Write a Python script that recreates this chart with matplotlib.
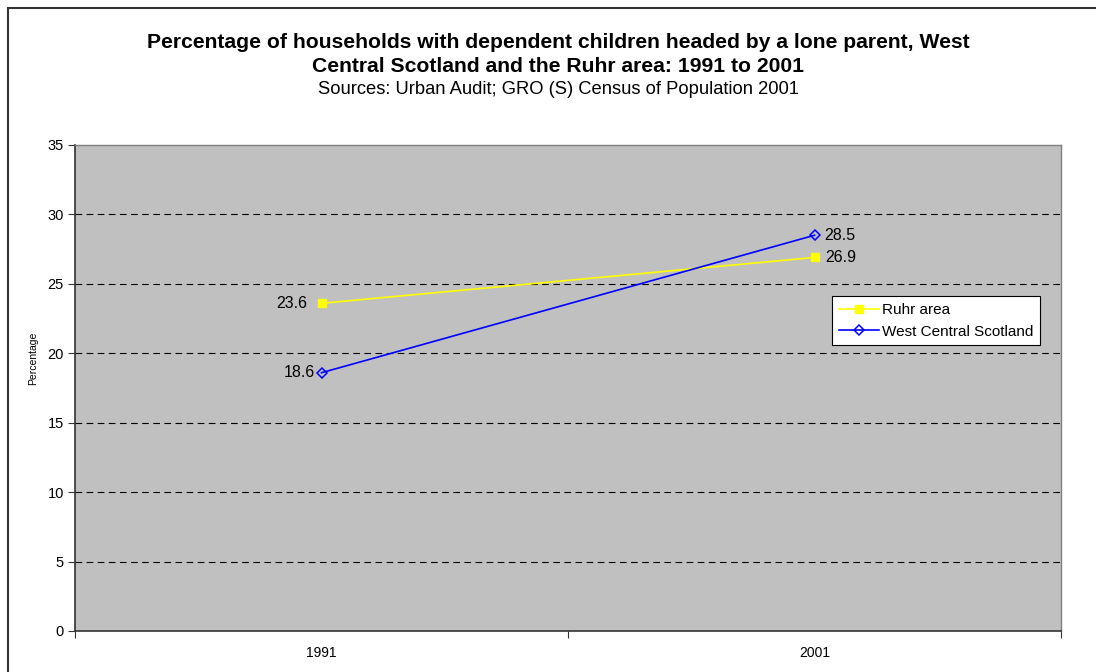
import matplotlib.pyplot as plt
from matplotlib.patches import Rectangle

plt.rcParams['font.family'] = ['Liberation Sans', 'DejaVu Sans']

# Data
years = ['1991', '2001']
ruhr = [23.6, 26.9]
west_central = [18.6, 28.5]
y_ticks = [0, 5, 10, 15, 20, 25, 30, 35]

fig = plt.figure(figsize=(10.96, 6.72), dpi=100)
fig.patch.set_facecolor('white')

# Outer chart frame (right/bottom edges run off the picture)
fig.add_artist(Rectangle((8 / 1096, -0.05), 1.2, 1 - 8 / 672 + 0.05,
                         transform=fig.transFigure, fill=False,
                         edgecolor='#333333', linewidth=1.5))

ax = fig.add_axes([75 / 1096, 1 - 631 / 672, (1061 - 75) / 1096, (631 - 145) / 672])
ax.set_facecolor('#c0c0c0')

x = [0.5, 1.5]
ax.plot(x, ruhr, color='#ffff00', lw=1.2, marker='s', markersize=6,
        markerfacecolor='#ffff00', markeredgecolor='#ffff00', label='Ruhr area', zorder=3)
ax.plot(x, west_central, color='#0000ff', lw=1.2, marker='D', markersize=5,
        markerfacecolor='none', markeredgecolor='#0000ff', markeredgewidth=1.1,
        label='West Central Scotland', zorder=4)

# Data labels
ax.annotate(f'{ruhr[0]}', (x[0], ruhr[0]), xytext=(-10.5, 0), textcoords='offset points',
            ha='right', va='center', fontsize=11.5)
ax.annotate(f'{west_central[0]}', (x[0], west_central[0]), xytext=(-4.5, 0), textcoords='offset points',
            ha='right', va='center', fontsize=11.5)
ax.annotate(f'{west_central[1]}', (x[1], west_central[1]), xytext=(7, 0), textcoords='offset points',
            ha='left', va='center', fontsize=11.5)
ax.annotate(f'{ruhr[1]}', (x[1], ruhr[1]), xytext=(7.5, 0), textcoords='offset points',
            ha='left', va='center', fontsize=11.5)

ax.set_xlim(0, 2)
ax.set_ylim(0, 35)
ax.set_yticks(y_ticks)
ax.set_yticklabels([str(v) for v in y_ticks], fontsize=10.5)
ax.set_xticks([0, 1, 2])
ax.set_xticklabels([])
ax.set_xticks(x, minor=True)
ax.set_xticklabels(years, minor=True, fontsize=10)
ax.tick_params(axis='x', which='minor', length=0, pad=11)
ax.tick_params(axis='x', which='major', length=5, direction='out', color='#333333')
ax.tick_params(axis='y', length=5, direction='out', color='#333333', pad=3)

for yv in y_ticks[1:-1]:
    ax.axhline(yv, color='black', lw=0.8, ls=(0, (6, 4)), zorder=1)

for side in ['top', 'right']:
    ax.spines[side].set_color('#808080')
    ax.spines[side].set_linewidth(1)
for side in ['left', 'bottom']:
    ax.spines[side].set_color('#333333')
    ax.spines[side].set_linewidth(1.2)

ax.set_ylabel('Percentage', fontsize=7.5)
ax.yaxis.set_label_coords(-37 / 986, (631 - 358) / 486)

leg = ax.legend(loc='upper left', bbox_to_anchor=((832 - 75) / 986, 1 - (296 - 145) / 486),
                fontsize=11, frameon=True, fancybox=False, framealpha=1, borderpad=0.45,
                handlelength=2.6, handletextpad=0.2, labelspacing=0.5, borderaxespad=0)
leg.get_frame().set_edgecolor('black')
leg.get_frame().set_facecolor('white')
leg.get_frame().set_linewidth(0.8)

title_x = 558 / 1096
fig.text(title_x, 1 - 42 / 672, 'Percentage of households with dependent children headed by a lone parent, West',
         ha='center', va='center', fontsize=15.2, fontweight='bold')
fig.text(title_x, 1 - 67 / 672, 'Central Scotland and the Ruhr area: 1991 to 2001',
         ha='center', va='center', fontsize=15.2, fontweight='bold')
fig.text(title_x, 1 - 90 / 672, 'Sources: Urban Audit; GRO (S) Census of Population 2001',
         ha='center', va='center', fontsize=13.2)

fig.savefig('out.png', dpi=100, facecolor='white')
